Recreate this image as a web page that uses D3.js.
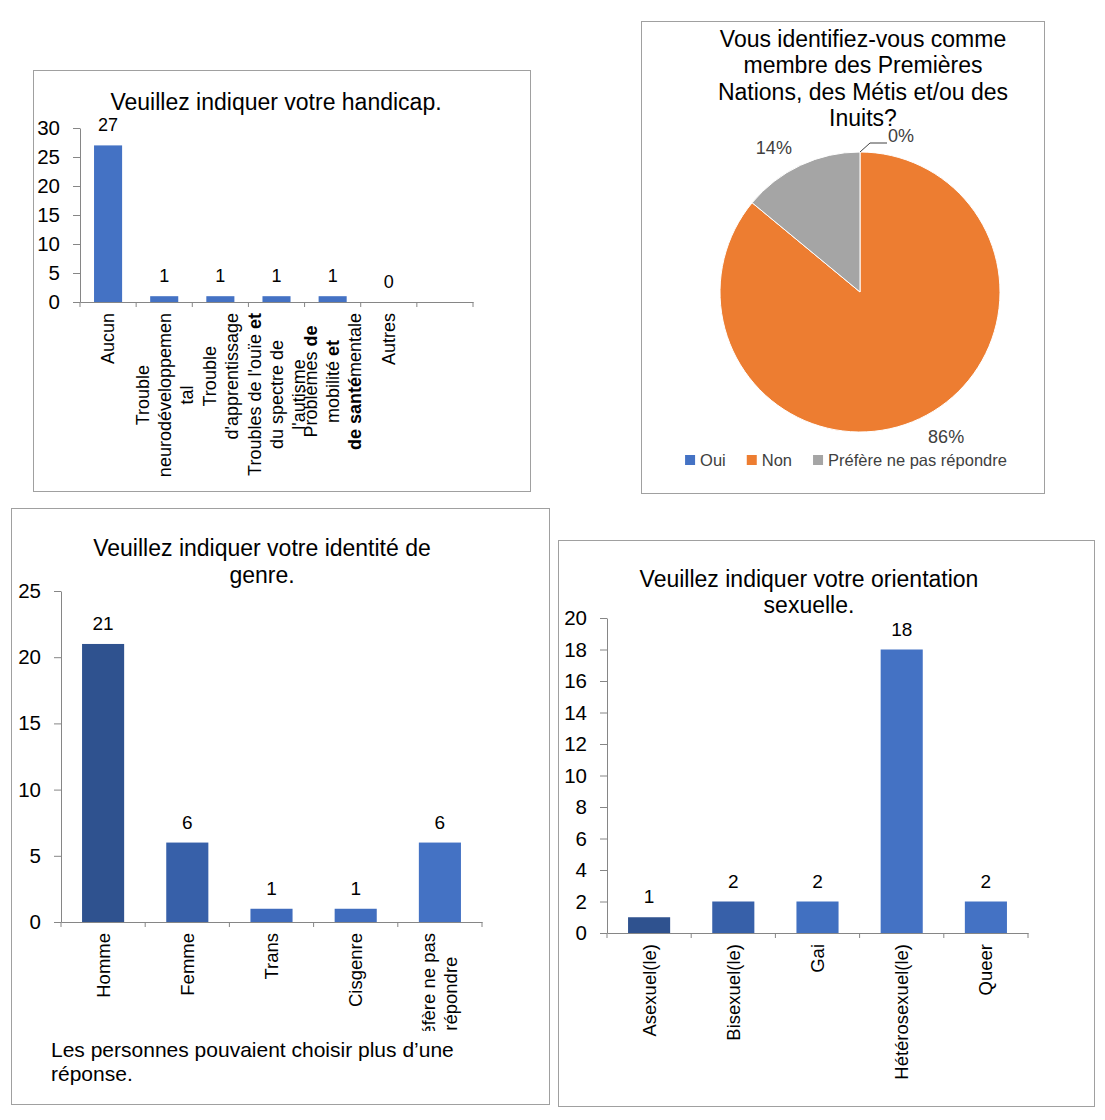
<!DOCTYPE html>
<html><head><meta charset="utf-8">
<script src="https://cdn.jsdelivr.net/npm/d3@7"></script>
<style>
body{margin:0;background:#fff}
svg text{font-family:"Liberation Sans",Arial,sans-serif}
</style>
</head><body>
<svg id="c" width="1105" height="1120"></svg>
<script>
// ---------- DATA ----------
const handicapCategories = ["Aucun","Trouble neurodéveloppemental","Trouble d'apprentissage","Troubles de l'ouïe et du spectre de l'autisme","Problèmes de mobilité et de santé mentale","Autres",""];
const handicapValues = [27,1,1,1,1,0,null];
const handicapLabelLines = [
  [[["Aucun",0]]],
  [[["Trouble",0]],[["neurodéveloppemen",0]],[["tal",0]]],
  [[["Trouble",0]],[["d'apprentissage",0]]],
  [[["Troubles de l'ouïe ",0],["et",1]],[["du spectre de",0]],[["l'autisme",0]]],
  [[["Problèmes ",0],["de",1]],[["mobilité ",0],["et",1]],[["de santé",1],["mentale",0]]],
  [[["Autres",0]]],
  []
];
const handicapTicks = [0,5,10,15,20,25,30];
const handicapTitle = ["Veuillez indiquer votre handicap."];

const indigCategories = ["Oui","Non","Préfère ne pas répondre"];
const indigValues = [0,86,14];
const indigTitle = ["Vous identifiez-vous comme","membre des Premières","Nations, des Métis et/ou des","Inuits?"];

const genreCategories = ["Homme","Femme","Trans","Cisgenre","Préfère ne pas répondre"];
const genreValues = [21,6,1,1,6];
const genreLabelLines = [["Homme"],["Femme"],["Trans"],["Cisgenre"],["Préfère ne pas","répondre"]];
const genreTicks = [0,5,10,15,20,25];
const genreTitle = ["Veuillez indiquer votre identité de","genre."];
const genreNote = ["Les personnes pouvaient choisir plus d’une","réponse."];

const orientCategories = ["Asexuel(le)","Bisexuel(le)","Gai","Hétérosexuel(le)","Queer"];
const orientValues = [1,2,2,18,2];
const orientTicks = [0,2,4,6,8,10,12,14,16,18,20];
const orientTitle = ["Veuillez indiquer votre orientation","sexuelle."];

// ---------- STYLES ----------
const handicapColors = handicapCategories.map(()=> "#4472C4");
const genreColors = ["#2F528F","#3760A9","#3F6BBC","#416EBF","#4472C4"];
const orientColors = ["#2F528F","#3760A9","#4170C1","#4472C4","#4472C4"];
const pieColors = ["#4472C4","#ED7D31","#A5A5A5"];
const axisColor = "#868686";
const frameColor = "#A0A0A0";

const svg = d3.select("#c");

function frame(x,y,w,h){
  svg.append("rect").attr("x",x+0.5).attr("y",y+0.5).attr("width",w).attr("height",h)
    .attr("fill","#fff").attr("stroke",frameColor).attr("stroke-width",1);
}

let clipId = 0;
function barChart(o){
  const g = svg.append("g");
  o.title.forEach((t,i)=> g.append("text").attr("x",o.titleX).attr("y",o.titleY+i*o.titleGap)
    .attr("text-anchor","middle").attr("font-size",23).attr("fill","#000").text(t));

  const n = o.values.length;
  const x = d3.scaleBand().domain(d3.range(n)).range([o.x0,o.x1]).paddingInner(0.5).paddingOuter(0.25);
  const y = d3.scaleLinear().domain([0,o.max]).range([o.y0,o.yTop]);

  const ya = g.append("g").attr("transform",`translate(${o.x0},0)`)
    .call(d3.axisLeft(y).tickValues(o.ticks).tickSize(7).tickPadding(13).tickSizeOuter(0));
  ya.select(".domain").attr("stroke",axisColor);
  ya.selectAll(".tick line").attr("stroke",axisColor);
  ya.selectAll(".tick text").attr("font-family","'Open Sans'").attr("font-size",20.5).attr("fill","#000");

  const xa = g.append("g").attr("transform",`translate(0,${o.y0})`)
    .call(d3.axisBottom(x).tickSize(0).tickFormat("").tickSizeOuter(0));
  xa.select(".domain").attr("stroke",axisColor);
  xa.selectAll(".tick").remove();
  const step = x.step();
  g.selectAll(null).data(d3.range(n+1)).join("line")
    .attr("x1",i=>o.x0+i*step).attr("x2",i=>o.x0+i*step)
    .attr("y1",o.y0).attr("y2",o.y0+5).attr("stroke",axisColor);

  const data = o.values.map((v,i)=>({v,i})).filter(d=>d.v!=null);
  g.selectAll(null).data(data).join("rect")
    .attr("x",d=>x(d.i)).attr("width",x.bandwidth())
    .attr("y",d=>y(d.v)).attr("height",d=>y(0)-y(d.v))
    .attr("fill",d=>o.colors[d.i]);
  g.selectAll(null).data(data).join("text")
    .attr("x",d=>x(d.i)+x.bandwidth()/2).attr("y",d=>y(d.v)-14)
    .attr("text-anchor","middle").attr("font-size",o.valueSize).attr("fill","#000")
    .text(d=>d.v);

  let lab = g.append("g");
  if (o.clipY){
    const id = "clip"+(clipId++);
    svg.append("clipPath").attr("id",id).attr("clipPathUnits","userSpaceOnUse")
      .append("rect").attr("x",0).attr("y",0).attr("width",1105).attr("height",o.clipY);
    lab.attr("clip-path",`url(#${id})`);
  }
  o.labels.forEach((lines,i)=>{
    const cx = x(i)+x.bandwidth()/2;
    const els = lines.map(segs=>{
      const t = lab.append("text").attr("text-anchor","middle").attr("font-size",o.labelSize)
        .attr("fill","#000").attr("dy","0.35em");
      segs.forEach(s=> t.append("tspan").attr("font-weight", s[1]?"bold":null).text(s[0]));
      return t;
    });
    const maxLen = d3.max(els, e=>e.node().getComputedTextLength()) || 0;
    const yc = o.y0 + o.labelGap + maxLen/2;
    els.forEach((t,j)=> t.attr("transform",
      `translate(${cx + (j-(els.length-1)/2)*o.labelLineH},${yc}) rotate(-90)`));
  });
  return {g,x,y};
}

// ---------- Chart 1: handicap ----------
frame(33,70,497,421);
barChart({
  title:handicapTitle, titleX:276, titleY:110, titleGap:26,
  x0:80, x1:473, y0:302, yTop:128, max:30, ticks:handicapTicks,
  values:handicapValues, colors:handicapColors,
  labels:handicapLabelLines, labelSize:18, labelLineH:22, labelGap:11, valueSize:18
});

// ---------- Chart 2: pie ----------
frame(641,21,403,472);
{
  const g = svg.append("g");
  indigTitle.forEach((t,i)=> g.append("text").attr("x",863).attr("y",47+i*26.3)
    .attr("text-anchor","middle").attr("font-size",23).attr("fill","#000").text(t));
  const R = 140;
  const total = d3.sum(indigValues);
  const arcs = d3.pie().sort(null).value(d=>d)(indigValues);
  const arc = d3.arc().innerRadius(0).outerRadius(R);
  const pg = g.append("g").attr("transform","translate(860,292)");
  pg.selectAll("path").data(arcs).join("path").attr("d",arc)
    .attr("fill",(d,i)=>pieColors[i]).attr("stroke","#fff").attr("stroke-width",1);
  arcs.forEach(d=>{
    const mid = (d.startAngle+d.endAngle)/2;
    const txt = Math.round(d.value/total*100)+"%";
    if (d.value===0){
      const p0 = [Math.sin(mid)*R, -Math.cos(mid)*R];
      const p1 = [p0[0]+10, p0[1]-9];
      const p2 = [p1[0]+17, p1[1]];
      pg.append("polyline").attr("points",[p0,p1,p2].map(p=>p.join(",")).join(" "))
        .attr("fill","none").attr("stroke","#404040").attr("stroke-width",1);
      pg.append("text").attr("x",p2[0]+1).attr("y",p2[1]-1)
        .attr("font-family","'Open Sans'").attr("font-size",18).attr("fill","#404040").text(txt);
    } else {
      const r = 160;
      const px = Math.sin(mid)*r, py = -Math.cos(mid)*r;
      pg.append("text").attr("x",px).attr("y",py).attr("dy","0.35em")
        .attr("text-anchor", px<0?"end":"start")
        .attr("font-family","'Open Sans'").attr("font-size",18).attr("fill","#404040").text(txt);
    }
  });
  // legend
  const lg = g.append("g");
  let cx = 0;
  indigCategories.forEach((c,i)=>{
    const it = lg.append("g");
    it.append("rect").attr("x",0).attr("y",-5).attr("width",10).attr("height",10).attr("fill",pieColors[i]);
    const t = it.append("text").attr("x",15).attr("y",0).attr("dy","0.35em")
      .attr("font-family","'Open Sans'").attr("font-size",16.5).attr("fill","#404040").text(c);
    const w = 15 + t.node().getComputedTextLength();
    it.attr("transform",`translate(${cx},0)`);
    cx += w + 21;
  });
  const totalW = cx - 21;
  lg.attr("transform",`translate(${846-totalW/2},460)`);
}

// ---------- Chart 3: genre ----------
frame(11,508,538,596);
barChart({
  title:genreTitle, titleX:262, titleY:556, titleGap:26.5,
  x0:61, x1:482, y0:922, yTop:591, max:25, ticks:genreTicks,
  values:genreValues, colors:genreColors,
  labels:genreLabelLines.map(ls=>ls.map(l=>[[l,0]])), labelSize:18.5, labelLineH:22, labelGap:11, valueSize:19,
  clipY:1031
});
genreNote.forEach((t,i)=> svg.append("text").attr("x",51).attr("y",1057+i*24)
  .attr("font-size",21).attr("fill","#000").text(t));

// ---------- Chart 4: orientation ----------
frame(558,540,536,566);
barChart({
  title:orientTitle, titleX:809, titleY:587, titleGap:26,
  x0:607, x1:1028, y0:933, yTop:618, max:20, ticks:orientTicks,
  values:orientValues, colors:orientColors,
  labels:orientCategories.map(l=>[[[l,0]]]), labelSize:18.5, labelLineH:22, labelGap:11, valueSize:19
});
</script>
</body></html>
